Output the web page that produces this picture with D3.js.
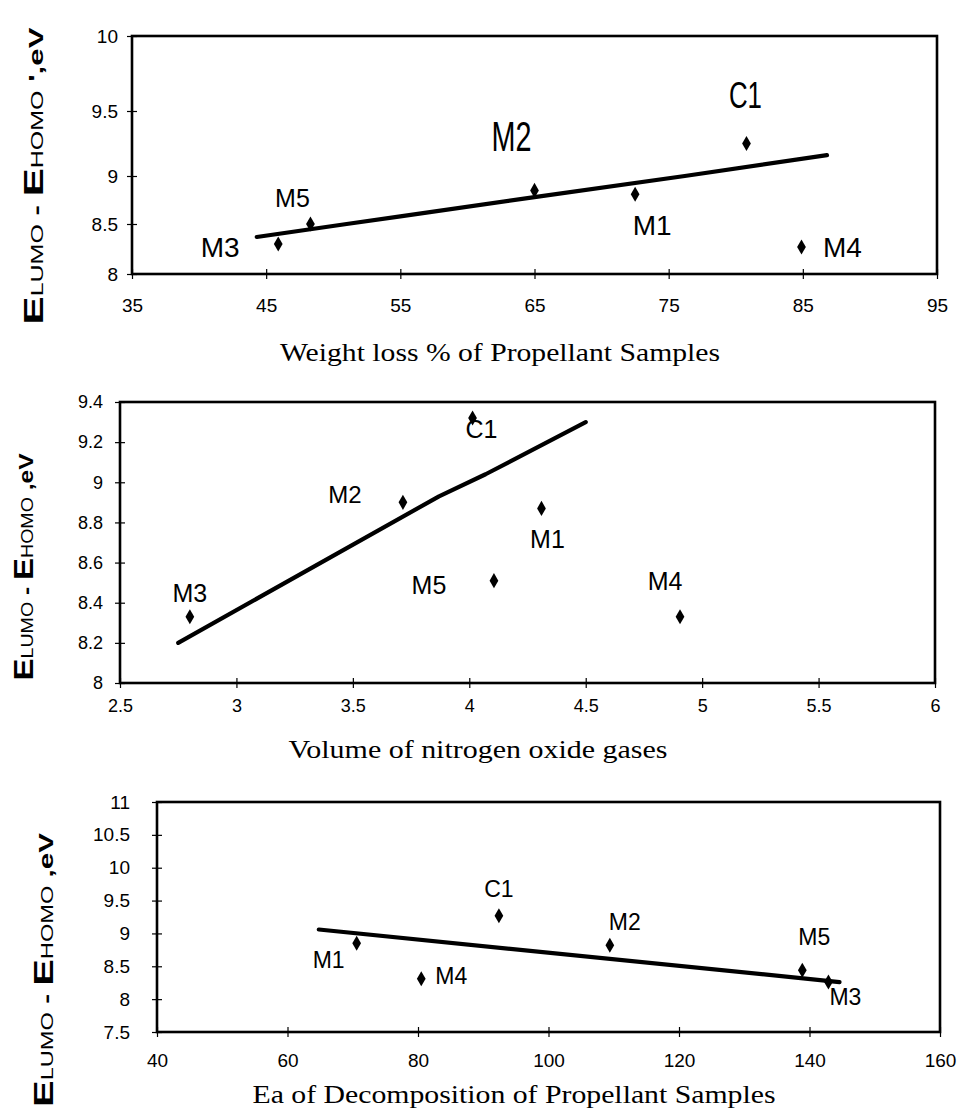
<!DOCTYPE html>
<html><head><meta charset="utf-8">
<script src="https://cdn.jsdelivr.net/npm/d3@7"></script>
<style>body{margin:0;background:#fff}</style>
</head><body>
<svg id="chart" width="960" height="1108"></svg>
<script>
// ---------- data ----------
const samples = ["M1", "M2", "M3", "M4", "M5", "C1"];

// Panel 1: weight loss %
const weightLoss = [72.5, 65.0, 45.9, 84.9, 48.3, 80.8];
const gapTop = [8.81, 8.85, 8.30, 8.27, 8.50, 9.25];
const fitTopX = [44.3, 51.0, 55, 65, 76.2, 86.8];
const fitTopY = [8.37, 8.5, 8.58, 8.78, 9.0, 9.16];
const xTicksTop = [35, 45, 55, 65, 75, 85, 95];
const yTicksTop = [8, 8.5, 9, 9.5, 10];

// Panel 2: volume of nitrogen oxide gases
const noxVolume = [4.31, 3.715, 2.80, 4.905, 4.106, 4.014];
const gapMid = [8.87, 8.90, 8.33, 8.33, 8.51, 9.32];
const fitMidX = [2.75, 3.87, 4.07, 4.5];
const fitMidY = [8.2, 8.93, 9.04, 9.3];
const xTicksMid = [2.5, 3, 3.5, 4, 4.5, 5, 5.5, 6];
const yTicksMid = [8, 8.2, 8.4, 8.6, 8.8, 9, 9.2, 9.4];

// Panel 3: Ea of decomposition
const activationEnergy = [70.6, 109.4, 142.9, 80.5, 138.9, 92.4];
const gapBot = [8.85, 8.82, 8.26, 8.31, 8.44, 9.27];
const fitBotX = [64.8, 144.6];
const fitBotY = [9.06, 8.26];
const xTicksBot = [40, 60, 80, 100, 120, 140, 160];
const yTicksBot = [7.5, 8, 8.5, 9, 9.5, 10, 10.5, 11];

const xTitles = ["Weight loss % of Propellant Samples",
                 "Volume of nitrogen oxide gases",
                 "Ea of Decomposition of Propellant Samples"];

// ---------- layout / style ----------
const sans = "'Liberation Sans', Arial, sans-serif";
const serif = "'Liberation Serif', 'Times New Roman', serif";
const svg = d3.select("#chart");

const labelStyleTop = {
  M1: {dx: 17, dy: 31, size: 28}, M2: {dx: -23, dy: -54, size: 42, w: 40},
  M3: {dx: -58, dy: 3, size: 28}, M4: {dx: 41, dy: 0, size: 28},
  M5: {dx: -18, dy: -26, size: 25}, C1: {dx: -1, dy: -48, size: 37, w: 33}
};
const labelStyleMid = {
  M1: {dx: 6, dy: 31, size: 25}, M2: {dx: -58, dy: -8, size: 24},
  M3: {dx: 0, dy: -24, size: 25}, M4: {dx: -15, dy: -36, size: 25},
  M5: {dx: -65, dy: 4, size: 25}, C1: {dx: 9, dy: 11, size: 25}
};
const labelStyleBot = {
  M1: {dx: -28, dy: 17, size: 23}, M2: {dx: 15, dy: -23, size: 23},
  M3: {dx: 17, dy: 15, size: 23}, M4: {dx: 30, dy: -3, size: 23},
  M5: {dx: 12, dy: -33, size: 23}, C1: {dx: 0, dy: -27, size: 23}
};

const panels = [
  {left: 132, right: 937, top: 36, bottom: 274,
   xs: weightLoss, ys: gapTop, fitX: fitTopX, fitY: fitTopY,
   xTicks: xTicksTop, yTicks: yTicksTop,
   // scanned axis is unevenly spaced: tick positions follow the picture
   yScale: d3.scaleLinear().domain(yTicksTop).range([274, 224, 176, 111, 36]),
   xPad: 20, yPad: 9, tickFont: 19, labels: labelStyleTop,
   title: {x: 500, y: 361, len: 440},
   yTitle: {x: 43, cy: 176, len: 297, tail: " ',eV"}},
  {left: 120, right: 935, top: 402, bottom: 683,
   xs: noxVolume, ys: gapMid, fitX: fitMidX, fitY: fitMidY,
   xTicks: xTicksMid, yTicks: yTicksMid,
   yScale: d3.scaleLinear().domain(d3.extent(yTicksMid)).range([683, 402]),
   xPad: 11, yPad: 12, tickFont: 18, labels: labelStyleMid,
   title: {x: 478, y: 758, len: 379},
   yTitle: {x: 33, cy: 567, len: 227, tail: " ,eV"}},
  {left: 157, right: 940, top: 802, bottom: 1032,
   xs: activationEnergy, ys: gapBot, fitX: fitBotX, fitY: fitBotY,
   xTicks: xTicksBot, yTicks: yTicksBot,
   yScale: d3.scaleLinear().domain(d3.extent(yTicksBot)).range([1032, 802]),
   xPad: 17, yPad: 22, tickFont: 19, labels: labelStyleBot,
   title: {x: 514, y: 1103, len: 523},
   yTitle: {x: 53, cy: 970, len: 274, tail: " ,eV"}}
];

function drawPanel(p, pi) {
  const g = svg.append("g");
  const x = d3.scaleLinear().domain(d3.extent(p.xTicks)).range([p.left, p.right]);
  const y = p.yScale;
  const fmt = d3.format("~g");

  // x axis
  const ax = g.append("g").attr("transform", `translate(0,${p.bottom})`)
    .call(d3.axisBottom(x).tickValues(p.xTicks).tickFormat(fmt).tickSize(5).tickPadding(p.xPad));
  ax.attr("font-size", null).attr("font-family", null);
  ax.select(".domain").remove();
  ax.selectAll(".tick line").attr("y1", -5).attr("stroke", "#000").attr("stroke-width", 1.2);
  ax.selectAll(".tick text").style("font-size", p.tickFont + "px").style("font-family", sans).attr("fill", "#000");

  // y axis
  const ay = g.append("g").attr("transform", `translate(${p.left},0)`)
    .call(d3.axisLeft(y).tickValues(p.yTicks).tickFormat(fmt).tickSize(5).tickPadding(p.yPad));
  ay.attr("font-size", null).attr("font-family", null);
  ay.select(".domain").remove();
  ay.selectAll(".tick line").attr("x1", 5).attr("stroke", "#000").attr("stroke-width", 1.2);
  ay.selectAll(".tick text").style("font-size", p.tickFont + "px").style("font-family", sans).attr("fill", "#000");

  // frame
  g.append("rect")
    .attr("x", x.range()[0]).attr("y", y(d3.max(p.yTicks)))
    .attr("width", x.range()[1] - x.range()[0])
    .attr("height", y(d3.min(p.yTicks)) - y(d3.max(p.yTicks)))
    .attr("fill", "none").attr("stroke", "#000").attr("stroke-width", 2.6);

  // trend line
  const line = d3.line().x(d => x(d[0])).y(d => y(d[1]));
  g.append("path").datum(d3.zip(p.fitX, p.fitY)).attr("d", line)
    .attr("fill", "none").attr("stroke", "#000").attr("stroke-width", 4.2)
    .attr("stroke-linecap", "round").attr("stroke-linejoin", "round");

  // points
  const pts = samples.map((s, i) => ({s, x: p.xs[i], y: p.ys[i]}));
  g.selectAll("path.pt").data(pts).join("path").attr("class", "pt")
    .attr("d", d3.symbol(d3.symbolDiamond, 66))
    .attr("transform", d => `translate(${x(d.x)},${y(d.y)})`)
    .attr("fill", "#000");

  // point labels
  const lt = g.selectAll("text.lbl").data(pts).join("text").attr("class", "lbl")
    .attr("x", d => x(d.x) + p.labels[d.s].dx)
    .attr("y", d => y(d.y) + p.labels[d.s].dy)
    .attr("text-anchor", "middle").attr("dominant-baseline", "central")
    .attr("font-family", sans).attr("font-size", d => p.labels[d.s].size)
    .attr("fill", "#000").text(d => d.s);
  lt.filter(d => p.labels[d.s].w)
    .attr("textLength", d => p.labels[d.s].w).attr("lengthAdjust", "spacingAndGlyphs");

  // x title
  g.append("text").attr("x", p.title.x).attr("y", p.title.y)
    .attr("text-anchor", "middle").attr("font-family", serif).attr("font-size", 25)
    .attr("textLength", p.title.len).attr("lengthAdjust", "spacingAndGlyphs")
    .attr("fill", "#000").text(xTitles[pi]);

  // y title
  const yt = g.append("text")
    .attr("transform", `translate(${p.yTitle.x},${p.yTitle.cy}) rotate(-90)`)
    .attr("text-anchor", "middle").attr("font-family", sans).attr("font-weight", "bold")
    .attr("textLength", p.yTitle.len).attr("lengthAdjust", "spacingAndGlyphs")
    .attr("fill", "#000");
  yt.append("tspan").attr("font-size", 27).text("E");
  yt.append("tspan").attr("font-size", 16).attr("font-weight", "normal").text("LUMO");
  yt.append("tspan").attr("font-size", 20).text(" - ");
  yt.append("tspan").attr("font-size", 27).text("E");
  yt.append("tspan").attr("font-size", 16).attr("font-weight", "normal").text("HOMO");
  yt.append("tspan").attr("font-size", 20).text(p.yTitle.tail);
}

panels.forEach(drawPanel);
</script>
</body></html>
